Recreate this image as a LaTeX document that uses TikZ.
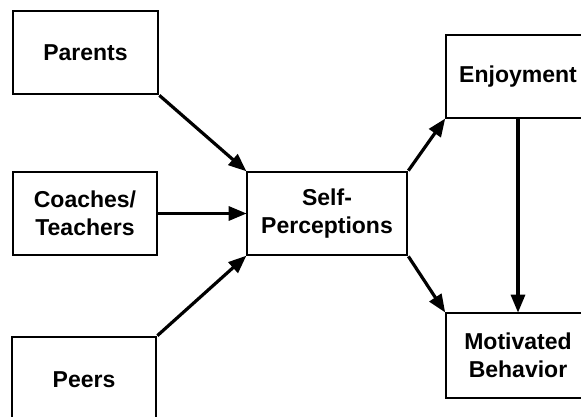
\documentclass[tikz,border=0pt]{standalone}
\usepackage{fontspec}
\setmainfont{Liberation Sans}
\usetikzlibrary{arrows.meta}
\begin{document}
\begin{tikzpicture}[x=1pt,y=-1pt,
  box/.style={draw, line width=2.7pt, inner sep=0pt, align=center,
    font=\fontsize{23}{28.5}\selectfont\bfseries},
  conn/.style={line width=3.2pt, -{Triangle[length=18pt,width=14pt]}, shorten >=-1pt}]
\useasboundingbox (0,0) rectangle (581,417);
\clip (0,0) rectangle (581,417);
\node[box, minimum width=145pt, minimum height=83pt] (par) at (85.5,52.5) {Parents};
\node[box, minimum width=144pt, minimum height=83pt] (coa) at (85,213.5) {Coaches/\\Teachers};
\node[box, minimum width=144pt, minimum height=86pt] (pee) at (84,380) {Peers};
\node[box, minimum width=160pt, minimum height=83pt] (sel) at (327,213.5) {Self-\\Perceptions};
\node[box, minimum width=144pt, minimum height=83pt] (enj) at (518,76.5) {Enjoyment};
\node[box, minimum width=144pt, minimum height=85pt] (mot) at (518,355.5) {Motivated\\Behavior};
\draw[conn] (par.south east) -- (sel.north west);
\draw[conn] (coa.east) -- (sel.west);
\draw[conn] (pee.north east) -- (sel.south west);
\draw[conn] (sel.north east) -- (enj.south west);
\draw[conn] (sel.south east) -- (mot.north west);
\draw[conn] (enj.south) -- (mot.north);
\end{tikzpicture}
\end{document}
